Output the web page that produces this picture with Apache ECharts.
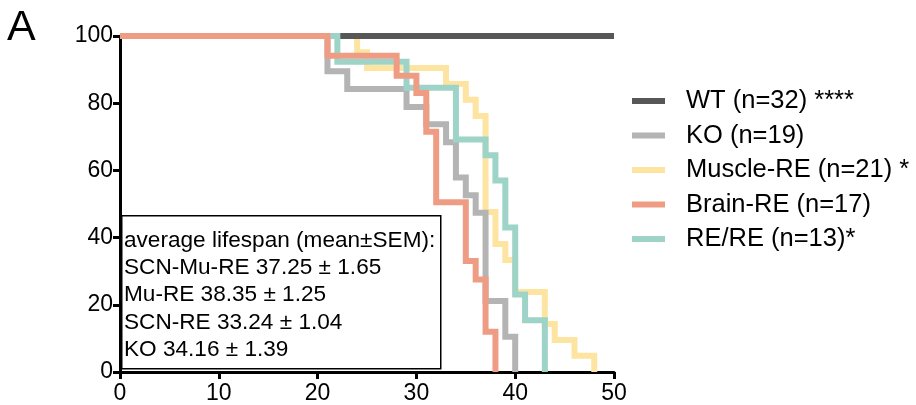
<!DOCTYPE html>
<html>
<head>
<meta charset="utf-8">
<script src="https://cdn.jsdelivr.net/npm/echarts@6/dist/echarts.min.js"></script>
<style>
  html, body { margin: 0; padding: 0; background: #fff; }
  #chart { width: 916px; height: 405px; }
</style>
</head>
<body>
<div id="chart"></div>
<script>
// survival (%) by age, one point per step of each curve
const wtDays = [0, 50];
const wtSurv = [100, 100];
const koDays = [0, 21, 23, 29, 31, 33, 34, 35, 36, 37, 39, 40];
const koSurv = [100, 89.5, 84.2, 78.9, 73.7, 68.4, 57.9, 52.6, 47.4, 21.1, 10.5, 0];
const muscleDays = [0, 24, 25, 33, 35, 36, 37, 38, 39, 40, 43, 44, 46, 48];
const muscleSurv = [100, 95.2, 90.5, 85.7, 81, 76.2, 47.6, 38.1, 33.3, 23.8, 14.3, 9.5, 4.8, 0];
const brainDays = [0, 21, 28, 30, 31, 32, 35, 36, 37, 38];
const brainSurv = [100, 94.1, 88.2, 83, 71.5, 50.5, 33, 27.5, 12, 0];
const reDays = [0, 22, 29, 34, 37, 38, 39, 40, 41, 43];
const reSurv = [100, 92.3, 84.6, 69.2, 64.5, 57, 43, 23.1, 15.4, 0];

const groupNames = ['WT (n=32) ****', 'KO (n=19)', 'Muscle-RE (n=21) *', 'Brain-RE (n=17)', 'RE/RE (n=13)*'];
const lifespanLines = [
  'average lifespan (mean±SEM):',
  'SCN-Mu-RE 37.25 ± 1.65',
  'Mu-RE 38.35 ± 1.25',
  'SCN-RE 33.24 ± 1.04',
  'KO 34.16 ± 1.39'
];

const FONT = '"Liberation Sans", Arial, sans-serif';

function zip(xs, ys) {
  return xs.map((x, i) => [x, ys[i]]);
}

function stepSeries(name, days, surv, color) {
  return {
    name: name,
    type: 'line',
    step: 'end',
    data: zip(days, surv),
    symbol: 'none',
    clip: false,
    color: color,
    lineStyle: { color: color, width: 6, join: 'miter', cap: 'butt' },
    emphasis: { disabled: true },
    animation: false
  };
}

const chart = echarts.init(document.getElementById('chart'));

// lines of the lifespan box
const textLines = lifespanLines.map((t, i) => ({
  type: 'text',
  left: 124,
  top: 229 + i * 27.3,
  style: { text: t, font: '22.6px ' + FONT, fill: '#000' }
}));

const option = {
  animation: false,
  grid: { left: 120, right: 302, top: 36, bottom: 33 },
  xAxis: {
    type: 'value',
    min: 0, max: 50, interval: 10,
    splitLine: { show: false },
    axisLine: { onZero: false, lineStyle: { color: '#000', width: 3 } },
    axisTick: { show: true, length: 7, lineStyle: { color: '#000', width: 3 } },
    axisLabel: { color: '#000', fontSize: 23, fontFamily: FONT, margin: 10 }
  },
  yAxis: {
    type: 'value',
    min: 0, max: 100, interval: 20,
    splitLine: { show: false },
    axisLine: { show: true, onZero: false, lineStyle: { color: '#000', width: 3 } },
    axisTick: { show: true, length: 7, lineStyle: { color: '#000', width: 3 } },
    axisLabel: { color: '#000', fontSize: 23, fontFamily: FONT, margin: 7 }
  },
  legend: {
    orient: 'vertical',
    left: 627,
    top: 83,
    icon: 'rect',
    itemWidth: 33,
    itemHeight: 6,
    itemGap: 8.5,
    data: groupNames,
    textStyle: { color: '#000', fontSize: 25.5, fontFamily: FONT, padding: [0, 0, 0, 16] }
  },
  graphic: [
    { type: 'text', left: 7, top: 7, style: { text: 'A', font: '43px ' + FONT, fill: '#000' } },
    {
      type: 'rect', left: 121, top: 215,
      shape: { width: 319, height: 153 },
      style: { fill: '#fff', stroke: '#000', lineWidth: 1.5 }
    }
  ].concat(textLines),
  series: [
    stepSeries(groupNames[2], muscleDays, muscleSurv, '#fde4a0'),
    stepSeries(groupNames[0], wtDays, wtSurv, '#575757'),
    stepSeries(groupNames[1], koDays, koSurv, '#b4b4b4'),
    stepSeries(groupNames[4], reDays, reSurv, '#9dd4c7'),
    stepSeries(groupNames[3], brainDays, brainSurv, '#ef9c85')
  ]
};

chart.setOption(option);
</script>
</body>
</html>
